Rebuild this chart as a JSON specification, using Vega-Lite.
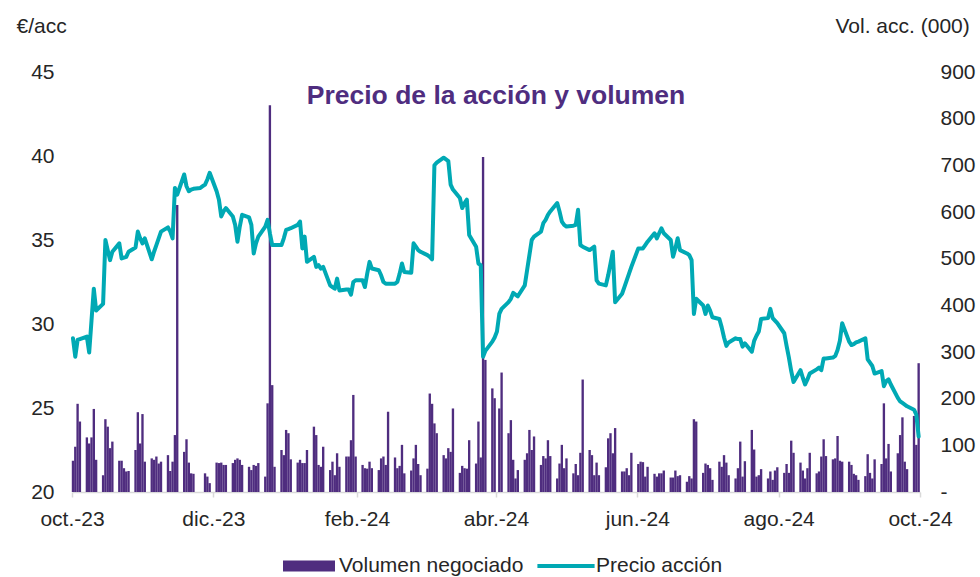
{
"$schema": "https://vega.github.io/schema/vega-lite/v6.json",
"width": 848,
"height": 420,
"autosize": {"type": "none"},
"padding": {"left": 72, "top": 72, "right": 60, "bottom": 85},
"background": "white",
"title": {"text": "Precio de la acción y volumen", "fontSize": 26.5, "fontWeight": "bold", "color": "#4F2D7F", "anchor": "middle", "baseline": "alphabetic", "offset": -115, "font": "Liberation Sans"},
"data": {"values": [
{"d":"2023-10-03","p":29.15,"v":67},{"d":"2023-10-04","p":28.05,"v":97},{"d":"2023-10-05","p":29.05,"v":189},{"d":"2023-10-06","p":29.1,"v":151},
{"d":"2023-10-09","p":29.25,"v":117},{"d":"2023-10-10","p":28.3,"v":104},{"d":"2023-10-11","p":30.2,"v":117},{"d":"2023-10-12","p":32.1,"v":178},{"d":"2023-10-13","p":30.8,"v":69},
{"d":"2023-10-16","p":31.2,"v":36},{"d":"2023-10-17","p":35.0,"v":156},{"d":"2023-10-18","p":34.4,"v":140},{"d":"2023-10-19","p":33.8,"v":94},{"d":"2023-10-20","p":34.3,"v":108},
{"d":"2023-10-23","p":34.8,"v":67},{"d":"2023-10-24","p":33.9,"v":67},{"d":"2023-10-25","p":33.95,"v":51},{"d":"2023-10-26","p":34.0,"v":44},{"d":"2023-10-27","p":34.3,"v":45},
{"d":"2023-10-30","p":34.55,"v":90},{"d":"2023-10-31","p":35.5,"v":171},{"d":"2023-11-01","p":35.1,"v":104},{"d":"2023-11-02","p":34.8,"v":167},{"d":"2023-11-03","p":35.1,"v":65},
{"d":"2023-11-06","p":33.85,"v":72},{"d":"2023-11-07","p":34.3,"v":69},{"d":"2023-11-08","p":34.7,"v":76},{"d":"2023-11-09","p":35.1,"v":61},{"d":"2023-11-10","p":35.5,"v":65},
{"d":"2023-11-13","p":35.75,"v":79},{"d":"2023-11-14","p":35.5,"v":45},{"d":"2023-11-15","p":35.1,"v":65},{"d":"2023-11-16","p":38.1,"v":122},{"d":"2023-11-17","p":37.7,"v":615},
{"d":"2023-11-20","p":38.9,"v":86},{"d":"2023-11-21","p":38.2,"v":113},{"d":"2023-11-22","p":37.9,"v":63},{"d":"2023-11-23","p":38.0,"v":40},{"d":"2023-11-24","p":38.05,"v":39},
{"d":"2023-11-27","p":38.1,"v":0},{"d":"2023-11-28","p":38.2,"v":0},{"d":"2023-11-29","p":38.3,"v":40},{"d":"2023-11-30","p":38.6,"v":33},{"d":"2023-12-01","p":39.0,"v":19},
{"d":"2023-12-04","p":37.9,"v":63},{"d":"2023-12-05","p":37.4,"v":62},{"d":"2023-12-06","p":36.4,"v":63},{"d":"2023-12-07","p":36.7,"v":58},{"d":"2023-12-08","p":36.9,"v":58},
{"d":"2023-12-11","p":36.4,"v":62},{"d":"2023-12-12","p":35.9,"v":69},{"d":"2023-12-13","p":34.9,"v":72},{"d":"2023-12-14","p":35.8,"v":69},{"d":"2023-12-15","p":36.5,"v":58},
{"d":"2023-12-18","p":36.35,"v":54},{"d":"2023-12-19","p":35.9,"v":47},{"d":"2023-12-20","p":34.2,"v":58},{"d":"2023-12-21","p":34.8,"v":56},{"d":"2023-12-22","p":35.2,"v":62},
{"d":"2023-12-25","p":35.8,"v":33},{"d":"2023-12-26","p":36.2,"v":190},{"d":"2023-12-27","p":35.4,"v":829},{"d":"2023-12-28","p":34.7,"v":229},{"d":"2023-12-29","p":34.7,"v":54},
{"d":"2024-01-01","p":34.7,"v":90},{"d":"2024-01-02","p":35.1,"v":79},{"d":"2024-01-03","p":35.6,"v":133},{"d":"2024-01-04","p":35.65,"v":126},{"d":"2024-01-05","p":35.7,"v":70},
{"d":"2024-01-08","p":35.9,"v":63},{"d":"2024-01-09","p":36.1,"v":69},{"d":"2024-01-10","p":34.5,"v":62},{"d":"2024-01-11","p":35.2,"v":62},{"d":"2024-01-12","p":33.7,"v":90},
{"d":"2024-01-15","p":34.0,"v":140},{"d":"2024-01-16","p":33.4,"v":122},{"d":"2024-01-17","p":33.5,"v":58},{"d":"2024-01-18","p":33.3,"v":54},{"d":"2024-01-19","p":33.4,"v":97},
{"d":"2024-01-22","p":32.3,"v":47},{"d":"2024-01-23","p":32.2,"v":65},{"d":"2024-01-24","p":32.1,"v":36},{"d":"2024-01-25","p":32.7,"v":83},{"d":"2024-01-26","p":32.0,"v":54},
{"d":"2024-01-29","p":32.05,"v":76},{"d":"2024-01-30","p":32.05,"v":76},{"d":"2024-01-31","p":31.75,"v":111},{"d":"2024-02-01","p":32.5,"v":208},{"d":"2024-02-02","p":32.6,"v":76},
{"d":"2024-02-05","p":32.6,"v":58},{"d":"2024-02-06","p":32.2,"v":51},{"d":"2024-02-07","p":33.0,"v":50},{"d":"2024-02-08","p":33.7,"v":65},{"d":"2024-02-09","p":33.3,"v":51},
{"d":"2024-02-12","p":33.2,"v":47},{"d":"2024-02-13","p":32.9,"v":72},{"d":"2024-02-14","p":32.5,"v":76},{"d":"2024-02-15","p":32.4,"v":58},{"d":"2024-02-16","p":32.4,"v":172},
{"d":"2024-02-19","p":32.4,"v":74},{"d":"2024-02-20","p":32.5,"v":51},{"d":"2024-02-21","p":33.0,"v":56},{"d":"2024-02-22","p":33.6,"v":101},{"d":"2024-02-23","p":33.1,"v":40},
{"d":"2024-02-26","p":33.05,"v":46},{"d":"2024-02-27","p":34.8,"v":72},{"d":"2024-02-28","p":34.6,"v":101},{"d":"2024-02-29","p":34.4,"v":60},{"d":"2024-03-01","p":34.3,"v":36},
{"d":"2024-03-04","p":34.1,"v":50},{"d":"2024-03-05","p":34.0,"v":211},{"d":"2024-03-06","p":33.85,"v":189},{"d":"2024-03-07","p":39.45,"v":147},{"d":"2024-03-08","p":39.6,"v":126},
{"d":"2024-03-11","p":39.9,"v":79},{"d":"2024-03-12","p":39.8,"v":72},{"d":"2024-03-13","p":39.7,"v":94},{"d":"2024-03-14","p":38.3,"v":86},{"d":"2024-03-15","p":38.0,"v":179},
{"d":"2024-03-18","p":37.5,"v":41},{"d":"2024-03-19","p":36.9,"v":56},{"d":"2024-03-20","p":37.2,"v":51},{"d":"2024-03-21","p":37.4,"v":50},{"d":"2024-03-22","p":35.3,"v":111},
{"d":"2024-03-25","p":34.6,"v":61},{"d":"2024-03-26","p":33.6,"v":151},{"d":"2024-03-27","p":33.5,"v":74},{"d":"2024-03-28","p":28.05,"v":718},{"d":"2024-03-29","p":28.4,"v":283},
{"d":"2024-04-01","p":28.95,"v":222},{"d":"2024-04-02","p":29.2,"v":201},{"d":"2024-04-03","p":29.55,"v":0},{"d":"2024-04-04","p":30.6,"v":179},{"d":"2024-04-05","p":30.9,"v":256},
{"d":"2024-04-08","p":31.3,"v":126},{"d":"2024-04-09","p":31.5,"v":154},{"d":"2024-04-10","p":31.85,"v":69},{"d":"2024-04-11","p":31.75,"v":29},{"d":"2024-04-12","p":31.65,"v":47},
{"d":"2024-04-15","p":32.3,"v":69},{"d":"2024-04-16","p":33.2,"v":83},{"d":"2024-04-17","p":34.1,"v":133},{"d":"2024-04-18","p":35.0,"v":90},{"d":"2024-04-19","p":35.2,"v":119},
{"d":"2024-04-22","p":35.5,"v":58},{"d":"2024-04-23","p":36.0,"v":77},{"d":"2024-04-24","p":36.2,"v":72},{"d":"2024-04-25","p":36.5,"v":111},{"d":"2024-04-26","p":36.7,"v":77},
{"d":"2024-04-29","p":37.2,"v":29},{"d":"2024-04-30","p":36.7,"v":61},{"d":"2024-05-01","p":36.1,"v":101},{"d":"2024-05-02","p":35.9,"v":51},{"d":"2024-05-03","p":35.8,"v":72},
{"d":"2024-05-06","p":35.85,"v":40},{"d":"2024-05-07","p":35.9,"v":60},{"d":"2024-05-08","p":36.8,"v":36},{"d":"2024-05-09","p":34.7,"v":84},{"d":"2024-05-10","p":34.6,"v":241},
{"d":"2024-05-13","p":34.4,"v":90},{"d":"2024-05-14","p":34.5,"v":79},{"d":"2024-05-15","p":34.6,"v":36},{"d":"2024-05-16","p":32.6,"v":63},{"d":"2024-05-17","p":32.4,"v":36},
{"d":"2024-05-20","p":32.3,"v":53},{"d":"2024-05-21","p":32.9,"v":115},{"d":"2024-05-22","p":33.6,"v":126},{"d":"2024-05-23","p":34.3,"v":83},{"d":"2024-05-24","p":31.3,"v":137},
{"d":"2024-05-27","p":31.8,"v":44},{"d":"2024-05-28","p":32.2,"v":44},{"d":"2024-05-29","p":32.6,"v":51},{"d":"2024-05-30","p":33.0,"v":36},{"d":"2024-05-31","p":33.4,"v":84},
{"d":"2024-06-03","p":34.5,"v":60},{"d":"2024-06-04","p":34.5,"v":65},{"d":"2024-06-05","p":34.5,"v":64},{"d":"2024-06-06","p":34.7,"v":33},{"d":"2024-06-07","p":34.9,"v":54},
{"d":"2024-06-10","p":35.4,"v":39},{"d":"2024-06-11","p":35.1,"v":33},{"d":"2024-06-12","p":35.4,"v":40},{"d":"2024-06-13","p":35.7,"v":40},{"d":"2024-06-14","p":35.4,"v":46},
{"d":"2024-06-17","p":35.0,"v":31},{"d":"2024-06-18","p":34.0,"v":31},{"d":"2024-06-19","p":34.5,"v":46},{"d":"2024-06-20","p":35.1,"v":34},{"d":"2024-06-21","p":34.4,"v":36},
{"d":"2024-06-24","p":34.2,"v":22},{"d":"2024-06-25","p":34.1,"v":34},{"d":"2024-06-26","p":33.8,"v":29},{"d":"2024-06-27","p":30.6,"v":156},{"d":"2024-06-28","p":31.5,"v":151},
{"d":"2024-07-01","p":31.1,"v":41},{"d":"2024-07-02","p":30.6,"v":61},{"d":"2024-07-03","p":31.1,"v":58},{"d":"2024-07-04","p":30.8,"v":51},{"d":"2024-07-05","p":30.4,"v":26},
{"d":"2024-07-08","p":30.3,"v":65},{"d":"2024-07-09","p":29.8,"v":54},{"d":"2024-07-10","p":29.2,"v":79},{"d":"2024-07-11","p":28.7,"v":63},{"d":"2024-07-12","p":28.9,"v":36},
{"d":"2024-07-15","p":29.15,"v":29},{"d":"2024-07-16","p":29.1,"v":51},{"d":"2024-07-17","p":29.1,"v":108},{"d":"2024-07-18","p":28.65,"v":33},{"d":"2024-07-19","p":28.85,"v":66},
{"d":"2024-07-22","p":28.35,"v":133},{"d":"2024-07-23","p":29.0,"v":91},{"d":"2024-07-24","p":29.3,"v":33},{"d":"2024-07-25","p":29.55,"v":36},{"d":"2024-07-26","p":30.3,"v":49},
{"d":"2024-07-29","p":30.35,"v":29},{"d":"2024-07-30","p":30.9,"v":44},{"d":"2024-07-31","p":30.35,"v":26},{"d":"2024-08-01","p":30.2,"v":46},{"d":"2024-08-02","p":30.05,"v":53},
{"d":"2024-08-05","p":29.45,"v":41},{"d":"2024-08-06","p":28.7,"v":60},{"d":"2024-08-07","p":28.0,"v":41},{"d":"2024-08-08","p":27.2,"v":110},{"d":"2024-08-09","p":26.55,"v":84},
{"d":"2024-08-12","p":27.25,"v":63},{"d":"2024-08-13","p":26.8,"v":46},{"d":"2024-08-14","p":26.4,"v":29},{"d":"2024-08-15","p":26.7,"v":51},{"d":"2024-08-16","p":27.05,"v":84},
{"d":"2024-08-19","p":27.3,"v":40},{"d":"2024-08-20","p":27.4,"v":44},{"d":"2024-08-21","p":27.25,"v":76},{"d":"2024-08-22","p":27.95,"v":113},{"d":"2024-08-23","p":27.95,"v":77},
{"d":"2024-08-26","p":28.0,"v":70},{"d":"2024-08-27","p":28.1,"v":72},{"d":"2024-08-28","p":28.45,"v":120},{"d":"2024-08-29","p":29.0,"v":67},{"d":"2024-08-30","p":30.05,"v":65},
{"d":"2024-09-02","p":28.95,"v":65},{"d":"2024-09-03","p":28.75,"v":58},{"d":"2024-09-04","p":28.8,"v":39},{"d":"2024-09-05","p":28.9,"v":36},{"d":"2024-09-06","p":28.95,"v":26},
{"d":"2024-09-09","p":29.15,"v":34},{"d":"2024-09-10","p":27.9,"v":81},{"d":"2024-09-11","p":27.7,"v":41},{"d":"2024-09-12","p":27.5,"v":29},{"d":"2024-09-13","p":27.05,"v":70},
{"d":"2024-09-16","p":27.2,"v":60},{"d":"2024-09-17","p":26.3,"v":190},{"d":"2024-09-18","p":26.6,"v":72},{"d":"2024-09-19","p":26.7,"v":103},{"d":"2024-09-20","p":26.4,"v":44},
{"d":"2024-09-23","p":25.6,"v":83},{"d":"2024-09-24","p":25.4,"v":122},{"d":"2024-09-25","p":25.3,"v":160},{"d":"2024-09-26","p":25.2,"v":65},{"d":"2024-09-27","p":25.1,"v":49},
{"d":"2024-09-30","p":24.9,"v":163},{"d":"2024-10-01","p":24.6,"v":101},{"d":"2024-10-02","p":23.3,"v":276}
]},
"layer": [
{
"mark": {"type": "bar", "width": 2.35},
"encoding": {
"x": {"field": "d", "type": "temporal",
"scale": {"type": "utc", "padding": 0, "domain": [{"year": 2023, "month": 10, "date": 2, "hours": 14, "utc": true}, {"year": 2024, "month": 10, "date": 2, "hours": 14, "utc": true}]},
"axis": {"values": [{"year": 2023, "month": 10, "date": 2, "hours": 14, "utc": true}, {"year": 2023, "month": 12, "date": 2, "hours": 14, "utc": true}, {"year": 2024, "month": 2, "date": 2, "hours": 14, "utc": true}, {"year": 2024, "month": 4, "date": 2, "hours": 14, "utc": true}, {"year": 2024, "month": 6, "date": 2, "hours": 14, "utc": true}, {"year": 2024, "month": 8, "date": 2, "hours": 14, "utc": true}, {"year": 2024, "month": 10, "date": 2, "hours": 14, "utc": true}],
"labelExpr": "['ene.','feb.','mar.','abr.','may.','jun.','jul.','ago.','sep.','oct.','nov.','dic.'][utcmonth(datum.value)] + '-' + utcFormat(datum.value, '%y')",
"title": null, "grid": false, "labelFontSize": 21, "labelPadding": 11, "tickSize": 5, "tickColor": "#D9D9D9", "tickWidth": 1.5, "domainColor": "#D9D9D9", "domainWidth": 1.5, "labelFlush": false, "labelOverlap": false}},
"y": {"field": "v", "type": "quantitative", "scale": {"domain": [0, 900], "nice": false},
"axis": {"orient": "right", "values": [0, 100, 200, 300, 400, 500, 600, 700, 800, 900], "labelExpr": "datum.value === 0 ? '-' : datum.label", "title": "Vol. acc. (000)", "titleAngle": 0, "titleAlign": "left", "titleBaseline": "alphabetic", "titleX": -85, "titleY": -40, "titleFontSize": 21, "titleFontWeight": "normal", "labelFontSize": 21, "labelPadding": 20, "ticks": false, "tickSize": 0, "domain": false, "grid": false}},
"color": {"datum": "Volumen negociado", "type": "nominal",
"scale": {"domain": ["Volumen negociado", "Precio acción"], "range": ["#4F2D7F", "#00A9B4"]},
"legend": {"orient": "none", "legendX": 211, "legendY": 468, "direction": "horizontal", "title": null, "symbolSize": 2704, "labelFontSize": 21, "labelColor": "#262626", "labelOffset": 4, "labelLimit": 400, "columnPadding": 13, "padding": 0, "symbolStrokeWidth": 0,
"encode": {"symbols": {"update": {"shape": {"signal": "datum.value === 'Precio acción' ? 'M-1.1,-0.08H1.1V0.08H-1.1Z' : 'M-1,-0.21H1V0.21H-1Z'"}}}}}}
}
},
{
"mark": {"type": "line", "color": "#00A9B4", "strokeWidth": 4, "strokeJoin": "round", "strokeCap": "round"},
"encoding": {
"x": {"field": "d", "type": "temporal"},
"y": {"field": "p", "type": "quantitative", "scale": {"domain": [20, 45], "nice": false},
"axis": {"orient": "left", "values": [20, 25, 30, 35, 40, 45], "title": "€/acc", "titleAngle": 0, "titleAlign": "left", "titleBaseline": "alphabetic", "titleX": -56, "titleY": -40, "titleFontSize": 21, "titleFontWeight": "normal", "labelFontSize": 21, "labelPadding": 18, "ticks": false, "tickSize": 0, "domain": false, "grid": false}}
}
}
],
"resolve": {"scale": {"y": "independent"}},
"config": {
"font": "Liberation Sans",
"view": {"stroke": null},
"axis": {"labelFont": "Liberation Sans", "titleFont": "Liberation Sans", "labelColor": "#262626", "titleColor": "#262626"},
"legend": {"labelFont": "Liberation Sans"}
}
}
